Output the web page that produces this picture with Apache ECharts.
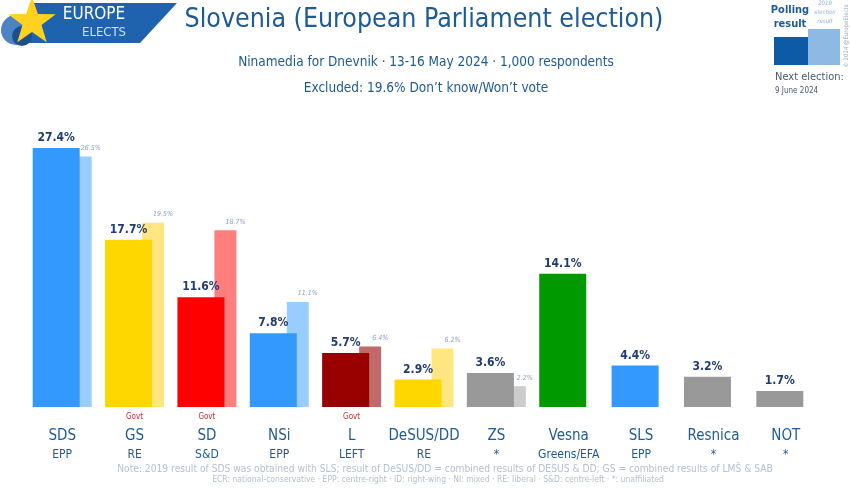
<!DOCTYPE html>
<html><head><meta charset="utf-8">
<script src="https://cdn.jsdelivr.net/npm/echarts@6/dist/echarts.min.js"></script>
<style>html,body{margin:0;padding:0;background:#fff}#c{width:850px;height:489px}</style>
</head><body><div id="c"></div>
<script>
const parties = ['SDS','GS','SD','NSi','L','DeSUS/DD','ZS','Vesna','SLS','Resnica','NOT'];
const groups = ['EPP','RE','S&D','EPP','LEFT','RE','*','Greens/EFA','EPP','*','*'];
const govt = [false,true,true,false,true,false,false,false,false,false,false];
const polling = [27.4,17.7,11.6,7.8,5.7,2.9,3.6,14.1,4.4,3.2,1.7];
const previous = [26.5,19.5,18.7,11.1,6.4,6.2,2.2,null,null,null,null];
const mainColors = ['#3399ff','#ffd700','#ff0000','#3399ff','#990000','#ffd700','#999999','#009900','#3399ff','#999999','#999999'];
const prevColors = ['#99ccff','#ffe680','#ff7f7f','#99ccff','#c06a6a','#ffe680','#cccccc','#cccccc','#cccccc','#cccccc','#cccccc'];

const FONT = "'Liberation Sans Narrow','DejaVu Sans Condensed',sans-serif";
const NAVY = '#1e5a96';

function starPts(cx, cy, R, r) {
  const pts = [];
  for (let i = 0; i < 10; i++) {
    const a = -Math.PI / 2 + i * Math.PI / 5;
    const rad = i % 2 === 0 ? R : r;
    pts.push([cx + rad * Math.cos(a), cy + rad * Math.sin(a)]);
  }
  return pts;
}

const chart = echarts.init(document.getElementById('c'), null, {renderer: 'canvas'});
chart.setOption({
  backgroundColor: '#ffffff',
  animation: false,
  title: [
    {text: 'Slovenia (European Parliament election)', left: 419, top: 2, textAlign: 'center',
     textStyle: {fontFamily: FONT, fontSize: 26.5, fontWeight: 'normal', color: NAVY}},
    {text: 'Ninamedia for Dnevnik · 13-16 May 2024 · 1,000 respondents', left: 421, top: 50, textAlign: 'center',
     textStyle: {fontFamily: FONT, fontSize: 13.5, fontWeight: 'normal', color: NAVY}},
    {text: 'Excluded: 19.6% Don\u2019t know/Won\u2019t vote', left: 421, top: 76, textAlign: 'center',
     textStyle: {fontFamily: FONT, fontSize: 13.5, fontWeight: 'normal', color: NAVY}}
  ],
  grid: {left: 26, right: 28, top: 123.4, bottom: 82},
  xAxis: {
    type: 'category', data: parties,
    axisLine: {show: false}, axisTick: {show: false},
    axisLabel: {
      interval: 0, margin: 2,
      formatter: (v, i) => (govt[i] ? '{g|Govt}' : '{g| }') + '\n{n|' + v + '}\n{p|' + groups[i] + '}',
      rich: {
        g: {fontFamily: FONT, fontSize: 8, color: '#cc2e2e', lineHeight: 16},
        n: {fontFamily: FONT, fontSize: 15, color: NAVY, lineHeight: 22},
        p: {fontFamily: FONT, fontSize: 12, color: NAVY, lineHeight: 16}
      }
    }
  },
  yAxis: {type: 'value', min: 0, max: 30, show: false, splitLine: {show: false}},
  series: [
    {
      name: 'Polling', type: 'bar', z: 3, barWidth: 47, barGap: '-21.3%',
      data: polling.map((v, i) => ({value: v, itemStyle: {color: mainColors[i]}})),
      label: {show: true, position: 'top', distance: 4, formatter: '{c}%',
        fontFamily: FONT, fontSize: 12, fontWeight: 'bold', color: '#203c6e'}
    },
    {
      name: '2019', type: 'bar', z: 2, barWidth: 22, barGap: '-21.3%',
      data: previous.map((v, i) => ({value: v, itemStyle: {color: prevColors[i]}})),
      label: {show: true, position: 'top', distance: 4, offset: [10, -1],
        formatter: p => p.value == null ? '' : p.value + '%',
        fontFamily: FONT, fontSize: 7, fontStyle: 'italic', color: '#8ea3bd'}
    }
  ],
  graphic: [
    {type: 'polygon', shape: {points: [[30,3],[177,3],[140,43],[20,43]]}, style: {fill: '#1f62ad'}},
    {type: 'circle', shape: {cx: 16, cy: 30, r: 15}, style: {fill: '#4b83c4'}},
    {type: 'circle', shape: {cx: 22, cy: 36, r: 10}, style: {fill: '#1b4f8f'}},
    {type: 'polygon', shape: {points: starPts(32, 22, 25, 10)}, style: {fill: '#ffd21f'}},
    {type: 'text', style: {text: 'EUROPE', x: 94, y: 15, textAlign: 'center', textVerticalAlign: 'middle',
      font: '17px ' + FONT, fill: '#ffffff'}},
    {type: 'text', style: {text: 'ELECTS', x: 104, y: 33, textAlign: 'center', textVerticalAlign: 'middle',
      font: '13px ' + FONT, fill: '#cfe0f3'}},
    {type: 'text', style: {text: 'Polling', x: 790, y: 10, textAlign: 'center', textVerticalAlign: 'middle',
      font: 'bold 11px ' + FONT, fill: NAVY}},
    {type: 'text', style: {text: 'result', x: 790, y: 24, textAlign: 'center', textVerticalAlign: 'middle',
      font: 'bold 11px ' + FONT, fill: NAVY}},
    {type: 'text', style: {text: '2019', x: 825, y: 3, textAlign: 'center', textVerticalAlign: 'middle',
      font: 'italic 6px ' + FONT, fill: '#8fb3d9'}},
    {type: 'text', style: {text: 'election', x: 825, y: 12, textAlign: 'center', textVerticalAlign: 'middle',
      font: 'italic 6px ' + FONT, fill: '#8fb3d9'}},
    {type: 'text', style: {text: 'result', x: 825, y: 21, textAlign: 'center', textVerticalAlign: 'middle',
      font: 'italic 6px ' + FONT, fill: '#8fb3d9'}},
    {type: 'rect', shape: {x: 808, y: 29, width: 32, height: 36}, style: {fill: '#8db9e2'}},
    {type: 'rect', shape: {x: 774, y: 37, width: 34, height: 28}, style: {fill: '#0d5aa7'}},
    {type: 'text', style: {text: 'Next election:', x: 775, y: 77, textVerticalAlign: 'middle',
      font: '11px ' + FONT, fill: '#4a5a6a'}},
    {type: 'text', style: {text: '9 June 2024', x: 775, y: 91, textVerticalAlign: 'middle',
      font: '8px ' + FONT, fill: '#4a5a6a'}},
    {type: 'text', rotation: Math.PI / 2, x: 846, y: 36,
      style: {text: '© 2024 @EuropeElects', textAlign: 'center', textVerticalAlign: 'middle',
      font: '6px ' + FONT, fill: '#9aa8b8'}},
    {type: 'text', style: {text: 'Note: 2019 result of SDS was obtained with SLS; result of DeSUS/DD = combined results of DESUS & DD; GS = combined results of LMŠ & SAB',
      x: 445, y: 469, textAlign: 'center', textVerticalAlign: 'middle', font: '10.2px ' + FONT, fill: '#b5c0cf'}},
    {type: 'text', style: {text: 'ECR: national-conservative · EPP: centre-right · ID: right-wing · NI: mixed · RE: liberal · S&D: centre-left · *: unaffiliated',
      x: 438, y: 480, textAlign: 'center', textVerticalAlign: 'middle', font: '8.5px ' + FONT, fill: '#b5c0cf'}}
  ]
});
</script>
</body></html>
